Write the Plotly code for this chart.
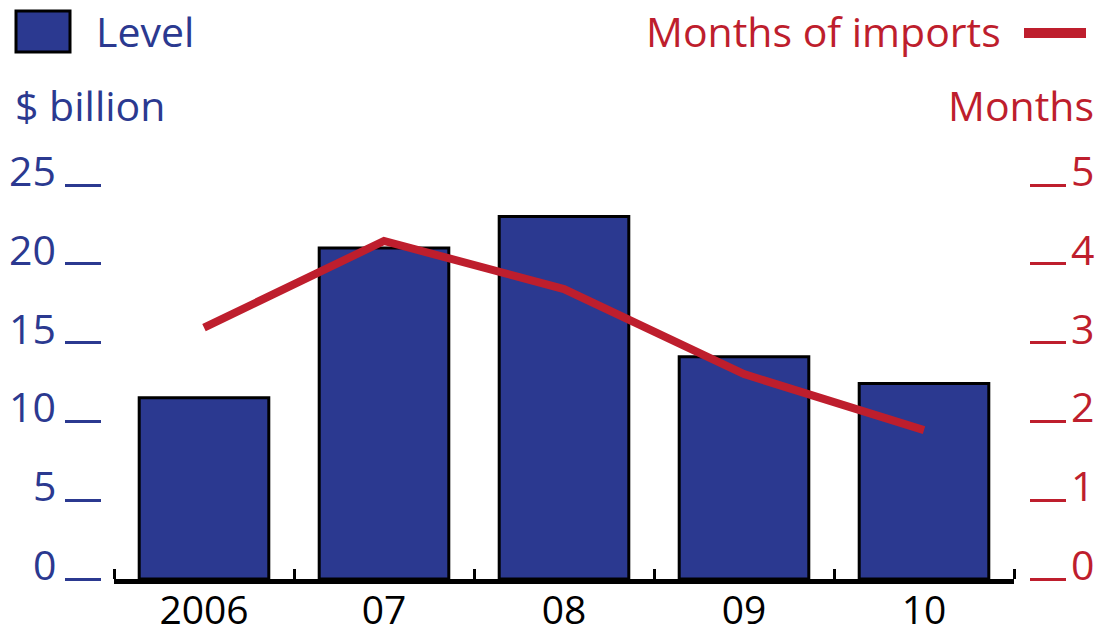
import plotly.graph_objects as go

categories = ["2006", "07", "08", "09", "10"]
level_bn = [11.5, 21.0, 23.0, 14.1, 12.4]
months_of_imports = [3.19, 4.29, 3.68, 2.60, 1.89]
left_ticks = [0, 5, 10, 15, 20, 25]
right_ticks = [0, 1, 2, 3, 4, 5]

BLUE = "#2B3990"
RED = "#BE1E2D"
FONT = "Open Sans"
FS = 41

x = list(range(len(categories)))

fig = go.Figure()
fig.add_trace(go.Bar(
    x=x, y=level_bn, width=0.72, name="Level",
    marker=dict(color=BLUE, line=dict(color="black", width=3)),
    yaxis="y", showlegend=False,
))
fig.add_trace(go.Scatter(
    x=x, y=months_of_imports, mode="lines", name="Months of imports",
    line=dict(color=RED, width=8), yaxis="y2", showlegend=False,
))

W, H = 1099, 633
L, R, T, B = 101, 70, 185, 54
pw = W - L - R
ph = H - T - B


def px_x(p):
    return (p - L) / pw


def px_y(p):
    return (H - B - p) / ph


fig.update_layout(
    width=W, height=H,
    margin=dict(l=L, r=R, t=T, b=B, autoexpand=False),
    paper_bgcolor="white", plot_bgcolor="white",
    font=dict(family=FONT, size=FS),
    xaxis=dict(
        domain=[px_x(114), px_x(1014)],
        range=[-0.5, 4.5], automargin=False,
        tickmode="array", tickvals=x, ticktext=categories,
        ticks="", showgrid=False, zeroline=False,
        showline=True, linewidth=5, linecolor="black",
        ticklabelstandoff=-7,
        tickfont=dict(color="black", size=39, family=FONT),
        minor=dict(tickmode="array", tickvals=[i - 0.5 for i in range(len(categories) + 1)],
                   ticks="inside", ticklen=10, tickwidth=3, tickcolor="black", showgrid=False),
    ),
    yaxis=dict(
        range=[0, 25], anchor="free", position=0, automargin=False,
        tickmode="array", tickvals=left_ticks, showticklabels=False,
        ticks="outside", ticklen=36, tickwidth=3, tickcolor=BLUE,
        showgrid=False, zeroline=False, showline=False,
    ),
    yaxis2=dict(
        range=[0, 5], anchor="free", position=1, overlaying="y", side="right",
        automargin=False,
        tickmode="array", tickvals=right_ticks, showticklabels=False,
        ticks="outside", ticklen=36, tickwidth=3, tickcolor=RED,
        showgrid=False, zeroline=False, showline=False,
    ),
    showlegend=False,
)

# Tick labels sit just above their tick marks, as in the reference
for v in left_ticks:
    fig.add_annotation(text=str(v), xref="paper", yref="y", x=px_x(58), y=v,
                       xanchor="right", yanchor="middle", yshift=15, showarrow=False,
                       font=dict(color=BLUE, size=FS, family=FONT))
for v in right_ticks:
    fig.add_annotation(text=str(v), xref="paper", yref="y2", x=px_x(1069), y=v,
                       xanchor="left", yanchor="middle", yshift=15, showarrow=False,
                       font=dict(color=RED, size=FS, family=FONT))

# Legend (drawn manually to match the reference layout)
fig.add_shape(type="rect", xref="paper", yref="paper",
              x0=px_x(16), x1=px_x(70), y0=px_y(52), y1=px_y(11),
              fillcolor=BLUE, line=dict(color="black", width=3))
fig.add_annotation(text="Level", xref="paper", yref="paper",
                   x=px_x(94), y=px_y(31),
                   xanchor="left", yanchor="middle", showarrow=False,
                   font=dict(color=BLUE, size=FS, family=FONT))
fig.add_shape(type="line", xref="paper", yref="paper",
              x0=px_x(1024), x1=px_x(1086), y0=px_y(33), y1=px_y(33),
              line=dict(color=RED, width=10))
fig.add_annotation(text="Months of imports", xref="paper", yref="paper",
                   x=px_x(1003), y=px_y(31),
                   xanchor="right", yanchor="middle", showarrow=False,
                   font=dict(color=RED, size=FS, family=FONT))
# Axis titles
fig.add_annotation(text="$ billion", xref="paper", yref="paper",
                   x=px_x(13), y=px_y(105),
                   xanchor="left", yanchor="middle", showarrow=False,
                   font=dict(color=BLUE, size=FS, family=FONT))
fig.add_annotation(text="Months", xref="paper", yref="paper",
                   x=px_x(1096), y=px_y(105),
                   xanchor="right", yanchor="middle", showarrow=False,
                   font=dict(color=RED, size=FS, family=FONT))

fig.write_html("out.html", config={"displayModeBar": False},
               post_script="document.body.style.margin='0';")
